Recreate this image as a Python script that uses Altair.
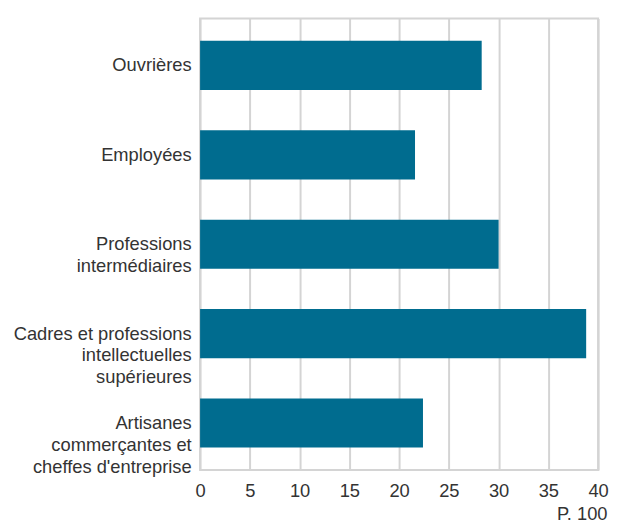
import altair as alt
import pandas as pd

categories = [
    "Ouvrières",
    "Employées",
    "Professions|intermédiaires",
    "Cadres et professions|intellectuelles|supérieures",
    "Artisanes|commerçantes et|cheffes d'entreprise",
]
values = [28.3, 21.6, 30.0, 38.8, 22.4]

df = pd.DataFrame({"cat": categories, "val": values})

FONT = "Liberation Sans"
FS = 18.5

chart = (
    alt.Chart(df)
    .mark_bar(color="#006c8f")
    .encode(
        x=alt.X(
            "val:Q",
            scale=alt.Scale(domain=[0, 40], nice=False, zero=True),
            axis=alt.Axis(
                values=[0, 5, 10, 15, 20, 25, 30, 35, 40],
                title="P. 100",
                titleFont=FONT,
                titleFontSize=FS,
                titleFontWeight="normal",
                titleColor="#333333",
                titleAlign="right",
                titleAnchor="end",
                titleX=411,
                titleY=50,
                titleBaseline="alphabetic",
                labelFont=FONT,
                labelFontSize=FS,
                labelColor="#333333",
                labelPadding=12,
                labelFlush=False,
                labelOverlap=False,
                ticks=False,
                domain=False,
                grid=True,
                gridColor="#d4d4d4",
                gridWidth=2,
            ),
        ),
        y=alt.Y(
            "cat:N",
            sort=categories,
            scale=alt.Scale(paddingInner=0.45, paddingOuter=0.25),
            axis=alt.Axis(
                title=None,
                labelExpr="split(datum.label, '|')",
                labelFont=FONT,
                labelFontSize=FS,
                labelColor="#333333",
                labelLineHeight=22,
                labelPadding=9,
                labelLimit=300,
                ticks=False,
                domain=False,
                grid=False,
                minExtent=183,
                maxExtent=183,
            ),
        ),
    )
    .properties(
        width=402,
        height=456,
        padding={"left": 5, "top": 8, "right": 0, "bottom": 0},
    )
    .configure_view(stroke="#d4d4d4", strokeWidth=2)
)

chart.save("out.html", embed_options={"renderer": "svg", "actions": False})
